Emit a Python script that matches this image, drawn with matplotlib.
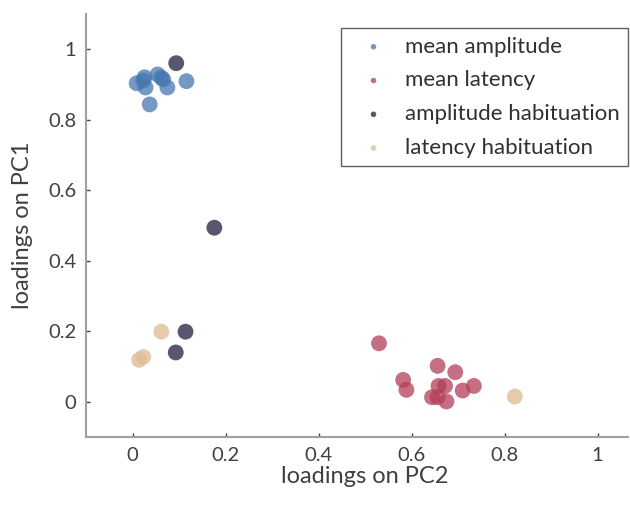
import matplotlib
matplotlib.use('Agg')
import matplotlib.pyplot as plt
from matplotlib.ticker import FuncFormatter

# PCA loadings of each measure on the first two components
amp_pc2 = [0.009, 0.023, 0.028, 0.026, 0.054, 0.062, 0.066, 0.075, 0.037, 0.116]
amp_pc1 = [0.904, 0.912, 0.892, 0.921, 0.929, 0.920, 0.915, 0.892, 0.844, 0.910]

lat_pc2 = [0.530, 0.656, 0.694, 0.582, 0.589, 0.658, 0.672, 0.710, 0.734, 0.644, 0.656, 0.675]
lat_pc1 = [0.166, 0.102, 0.084, 0.062, 0.034, 0.045, 0.045, 0.032, 0.045, 0.013, 0.013, 0.001]

amphab_pc2 = [0.094, 0.176, 0.114, 0.093]
amphab_pc1 = [0.961, 0.494, 0.199, 0.140]

lathab_pc2 = [0.062, 0.023, 0.014, 0.822]
lathab_pc1 = [0.199, 0.127, 0.119, 0.015]

labels = ['mean amplitude', 'mean latency', 'amplitude habituation', 'latency habituation']
colors = ['#4577b0', '#b43d58', '#3b3953', '#dcc098']
alphas = [0.75, 0.75, 0.85, 0.8]

plt.rcParams['font.family'] = ['Lato', 'DejaVu Sans']

fig = plt.figure(figsize=(6.3, 5.07), dpi=100)
ax = fig.add_axes([0.1365, 0.138, 0.86, 0.834])

series = [(amp_pc2, amp_pc1), (lat_pc2, lat_pc1), (amphab_pc2, amphab_pc1), (lathab_pc2, lathab_pc1)]
for (x, y), lab, c, a in zip(series, labels, colors, alphas):
    ax.scatter(x, y, s=130, color=c, alpha=a, edgecolors='none', label=lab)

ax.set_xlim(-0.1, 1.065)
ax.set_ylim(-0.1, 1.1)
ticks = [0, 0.2, 0.4, 0.6, 0.8, 1]
ax.set_xticks(ticks)
ax.set_yticks(ticks)
fmt = FuncFormatter(lambda v, p: '%g' % v)
ax.xaxis.set_major_formatter(fmt)
ax.yaxis.set_major_formatter(fmt)

for side in ['top', 'right']:
    ax.spines[side].set_visible(False)
for side in ['left', 'bottom']:
    ax.spines[side].set_color('#a0a0a0')
    ax.spines[side].set_linewidth(1.5)
ax.tick_params(direction='in', length=3, width=1, color='#404040',
               labelsize=14.5, labelcolor='#404040', pad=7)

ax.set_xlabel('loadings on PC2', fontsize=17, color='#404040')
ax.set_ylabel('loadings on PC1', fontsize=17, color='#404040')
ax.xaxis.set_label_coords(0.515, -0.068)
ax.yaxis.set_label_coords(-0.098, 0.5)

leg = ax.legend(loc='upper right', bbox_to_anchor=(1.0, 0.967), fontsize=16,
                markerscale=0.35, handletextpad=0.3, labelspacing=0.62,
                fancybox=False, framealpha=1, borderpad=0.38, handlelength=2.2,
                borderaxespad=0, labelcolor='#303030')
leg.get_frame().set_edgecolor('#606060')
leg.get_frame().set_linewidth(1)

fig.savefig('out.png', dpi=100)
